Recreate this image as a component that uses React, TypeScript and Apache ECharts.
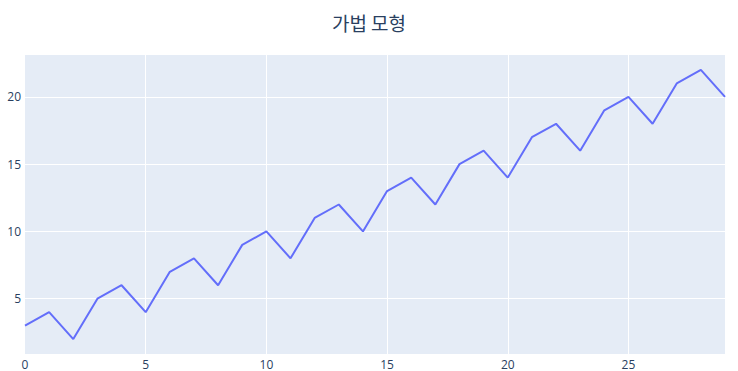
import React, { useEffect, useRef } from "react";
import * as echarts from "echarts";

const titleText = "가법 모형";
const xValues = [0, 1, 2, 3, 4, 5, 6, 7, 8, 9, 10, 11, 12, 13, 14, 15, 16, 17, 18, 19, 20, 21, 22, 23, 24, 25, 26, 27, 28, 29];
const yValues = [3, 4, 2, 5, 6, 4, 7, 8, 6, 9, 10, 8, 11, 12, 10, 13, 14, 12, 15, 16, 14, 17, 18, 16, 19, 20, 18, 21, 22, 20];
const yTicks = [5, 10, 15, 20];
const xTicks = [0, 5, 10, 15, 20, 25];

export default function App() {
  const ref = useRef<HTMLDivElement>(null);
  useEffect(() => {
    document.body.style.margin = "0";
    const chart = echarts.init(ref.current!, null, { renderer: "svg" });
    const font = "'Open Sans', 'Noto Sans', sans-serif";
    chart.setOption({
      animation: false,
      backgroundColor: "#ffffff",
      title: {
        text: titleText,
        left: "center",
        top: 8,
        textStyle: {
          fontFamily: "'Noto Sans CJK KR', 'Open Sans', sans-serif",
          fontSize: 19,
          fontWeight: "normal",
          color: "#2a3f5f",
        },
      },
      grid: {
        left: 25,
        right: 13,
        top: 55,
        bottom: 17,
        show: true,
        backgroundColor: "#E5ECF6",
        borderWidth: 0,
        containLabel: false,
      },
      xAxis: {
        type: "value",
        min: 0,
        max: 29,
        interval: 5,
        axisLine: { show: false },
        axisTick: { show: false },
        axisLabel: { color: "#2a3f5f", fontSize: 12, fontFamily: font, margin: 4, showMaxLabel: false },
        splitLine: { show: true, showMinLine: false, showMaxLine: false, lineStyle: { color: "#ffffff", width: 1 } },
      },
      yAxis: {
        type: "value",
        min: 2 - 20 / 18,
        max: 22 + 20 / 18,
        axisLine: { show: false },
        axisTick: { show: false, customValues: yTicks },
        axisLabel: { color: "#2a3f5f", fontSize: 12, fontFamily: font, margin: 4, customValues: yTicks },
        splitLine: { show: true, lineStyle: { color: "#ffffff", width: 1 } },
      },
      series: [
        {
          type: "line",
          data: xValues.map((x, i) => [x, yValues[i]]),
          showSymbol: false,
          symbol: "none",
          lineStyle: { color: "#636efa", width: 2 },
          itemStyle: { color: "#636efa" },
        },
      ],
    });
    return () => chart.dispose();
  }, []);
  return <div ref={ref} style={{ position: "absolute", left: 0, top: 0, width: 738, height: 371 }} />;
}
